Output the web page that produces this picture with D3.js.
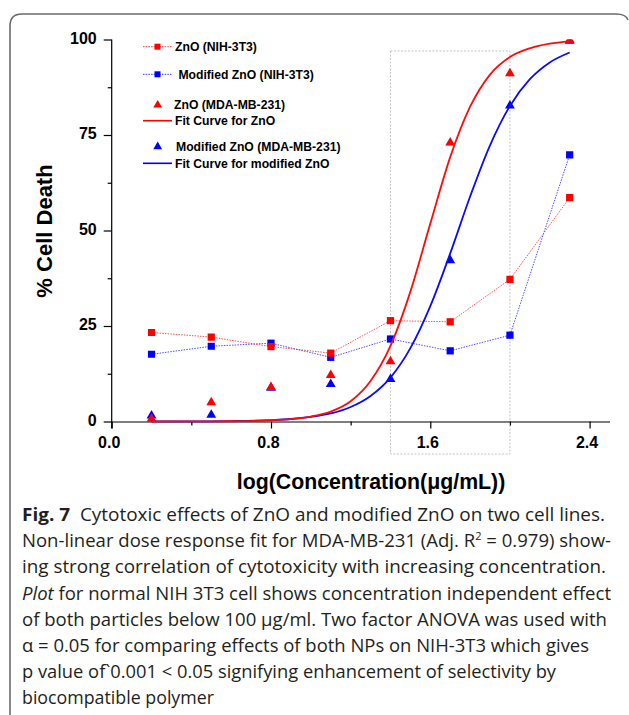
<!DOCTYPE html>
<html>
<head>
<meta charset="utf-8">
<script src="https://cdn.jsdelivr.net/npm/d3@7"></script>
<style>
  body { margin: 0; background: #fff; }
  svg { display: block; }
</style>
</head>
<body>
<div class="vis-chart"></div>
<script>
// data
const conc = [0.2, 0.5, 0.8, 1.1, 1.4, 1.7, 2.0, 2.3];
const znoNih = [23.3, 22.1, 19.6, 17.9, 26.4, 26.1, 37.2, 58.6];
const modNih = [17.6, 19.7, 20.5, 16.8, 21.6, 18.5, 22.6, 69.8];
const znoMda = [0.7, 5.0, 9.0, 12.1, 15.7, 73.0, 91.1, 99.9];
const modMda = [1.5, 1.7, 8.8, 9.8, 11.1, 42.2, 82.7, 99.6];

// fit curves, read at these x positions
const fitX = [0.2, 0.4, 0.6, 0.8, 0.9, 1.0, 1.1, 1.2, 1.3, 1.4, 1.5, 1.6, 1.7, 1.8, 1.9, 2.0, 2.1, 2.2, 2.3];
const fitZno = [0.0, 0.02, 0.07, 0.3, 0.6, 1.3, 2.6, 5.3, 10.6, 19.8, 34.0, 51.8, 69.2, 82.4, 90.8, 95.4, 97.7, 98.9, 99.5];
const fitMod = [0.01, 0.03, 0.11, 0.36, 0.65, 1.2, 2.1, 3.8, 6.7, 11.5, 19.2, 30.2, 44.0, 58.9, 72.3, 82.6, 89.6, 94.0, 96.6];

const xMajor = [0, 0.8, 1.6, 2.4];
const xMinor = [0.4, 1.2, 2.0];
const yMajor = [0, 25, 50, 75, 100];
const yMinor = [12.5, 37.5, 62.5, 87.5];
const boxRange = [1.4, 2.0];

const legendItems = [
  {label: 'ZnO (NIH-3T3)', color: '#ff0000', kind: 'sq'},
  {label: ' Modified ZnO (NIH-3T3)', color: '#0000ff', kind: 'sq'},
  {label: 'ZnO (MDA-MB-231)', color: '#ff0000', kind: 'tri'},
  {label: 'Fit Curve for ZnO', color: '#ff0000', kind: 'line'},
  {label: 'Modified ZnO (MDA-MB-231)', color: '#0000ff', kind: 'tri'},
  {label: 'Fit Curve for modified ZnO', color: '#0000ff', kind: 'line'}
];

const captionLines = [
  [{t: 'Fig. 7', b: true}, {t: '  Cytotoxic effects of ZnO and modified ZnO on two cell lines.'}],
  [{t: 'Non-linear dose response fit for MDA-MB-231 (Adj. R'}, {t: '2', sup: true}, {t: ' = 0.979) show-', down: true}],
  [{t: 'ing strong correlation of cytotoxicity with increasing concentration.'}],
  [{t: 'Plot', i: true}, {t: ' for normal NIH 3T3 cell shows concentration independent effect'}],
  [{t: 'of both particles below 100 µg/ml. Two factor ANOVA was used with'}],
  [{t: 'α = 0.05 for comparing effects of both NPs on NIH-3T3 which gives'}],
  [{t: 'p value of`0.001 < 0.05 signifying enhancement of selectivity by'}],
  [{t: 'biocompatible polymer'}]
];
const captionEnds = [605, 611, 606, 611, 607, 589, 556, 214];

const width = 629;
const height = 715;
const font = '"Liberation Sans", Arial, sans-serif';

const svg = d3.select('.vis-chart').append('svg')
  .attr('width', width).attr('height', height);

// figure frame
svg.append('path')
  .attr('d', 'M10,' + height + ' L10,26 Q10,14 22,14 L616,14 Q626,14 628,20')
  .attr('fill', 'none').attr('stroke', '#6b6b6b').attr('stroke-width', 1.6);

const x = d3.scaleLinear().domain([0, 2.5]).range([111.7, 609.5]);
const y = d3.scaleLinear().domain([0, 100]).range([421.5, 39.5]);

svg.append('clipPath').attr('id', 'plotclip')
  .append('rect').attr('x', x(0)).attr('y', y(100))
  .attr('width', x(2.5) - x(0)).attr('height', 440 - y(100));

// dotted box
svg.append('rect')
  .attr('x', x(boxRange[0])).attr('y', 51)
  .attr('width', x(boxRange[1]) - x(boxRange[0])).attr('height', 454 - 51)
  .attr('fill', 'none').attr('stroke', '#c4c4c4').attr('stroke-width', 1)
  .attr('stroke-dasharray', '2,1.5');

// axes
const gx = svg.append('g').attr('transform', 'translate(0,' + y(0) + ')');
gx.call(d3.axisBottom(x).tickValues(xMajor).tickSize(7).tickSizeOuter(0)
  .tickFormat(d3.format('.1f')));
gx.append('g').call(d3.axisBottom(x).tickValues(xMinor).tickSize(4).tickSizeOuter(0).tickFormat(''))
  .select('.domain').remove();
gx.selectAll('text').attr('font-family', font).attr('font-weight', 'bold')
  .attr('font-size', 16).attr('fill', '#000').attr('dy', '1.05em').attr('dx', -3);

const gy = svg.append('g').attr('transform', 'translate(' + x(0) + ',0)');
gy.call(d3.axisLeft(y).tickValues(yMajor).tickSize(8).tickSizeOuter(0));
gy.append('g').call(d3.axisLeft(y).tickValues(yMinor).tickSize(4).tickSizeOuter(0).tickFormat(''))
  .select('.domain').remove();
gy.selectAll('text').attr('font-family', font).attr('font-weight', 'bold')
  .attr('font-size', 16).attr('fill', '#000').attr('x', -15).attr('dy', '0.22em');
gy.select('.domain').attr('d', 'M0,' + y(100) + 'V' + (y(0) + 7));
svg.selectAll('.domain, .tick line').attr('stroke', '#000').attr('stroke-width', 1.2);

// axis titles
svg.append('text')
  .attr('x', 371).attr('y', 489).attr('text-anchor', 'middle')
  .attr('font-family', font).attr('font-weight', 'bold').attr('font-size', 21.3)
  .text('log(Concentration(μg/mL))');
svg.append('text')
  .attr('transform', 'translate(52,231) rotate(-90)').attr('text-anchor', 'middle')
  .attr('font-family', font).attr('font-weight', 'bold').attr('font-size', 22)
  .text('% Cell Death');

const plot = svg.append('g').attr('clip-path', 'url(#plotclip)');

const pts = (vals) => vals.map((v, i) => [conc[i], v]);
const dotted = d3.line().x(d => x(d[0])).y(d => y(d[1]));

// NIH-3T3 series: dotted connecting lines and squares
[[modNih, '#3030ff'], [znoNih, '#ff3030']].forEach(([vals, c]) => {
  plot.append('path').attr('d', dotted(pts(vals)))
    .attr('fill', 'none').attr('stroke', c).attr('stroke-width', 1)
    .attr('stroke-dasharray', '1.5,1.2').attr('opacity', 0.85);
});
[[modNih, '#0000ff'], [znoNih, '#ff0000']].forEach(([vals, c]) => {
  plot.selectAll(null).data(pts(vals)).enter().append('path')
    .attr('d', d3.symbol(d3.symbolSquare, 52)())
    .attr('transform', d => 'translate(' + x(d[0]) + ',' + y(d[1]) + ')')
    .attr('fill', c);
});

// MDA-MB-231 triangles
[[modMda, '#0000ff'], [znoMda, '#ff0000']].forEach(([vals, c]) => {
  plot.selectAll(null).data(pts(vals)).enter().append('path')
    .attr('d', d3.symbol(d3.symbolTriangle, 42)())
    .attr('transform', d => 'translate(' + x(d[0]) + ',' + y(d[1]) + ')')
    .attr('fill', c);
});

// fit curves
const fitLine = d3.line().x(d => x(d[0])).y(d => y(d[1])).curve(d3.curveMonotoneX);
[[fitMod, '#0a0aff'], [fitZno, '#ff0a0a']].forEach(([vals, c]) => {
  plot.append('path').attr('d', fitLine(vals.map((v, i) => [fitX[i], v])))
    .attr('fill', 'none').attr('stroke', c).attr('stroke-width', 1.8);
});

// legend
const legendY = [46.7, 74.3, 105, 120.7, 146.7, 163.3];
const legendTextX = [175, 175, 174, 175, 176, 175];
const lg = svg.append('g');
legendItems.forEach((it, i) => {
  const g = lg.append('g').attr('transform', 'translate(0,' + legendY[i] + ')');
  if (it.kind === 'sq') {
    g.append('line').attr('x1', 143).attr('x2', 172).attr('stroke', it.color)
      .attr('stroke-width', 1).attr('stroke-dasharray', '1.5,1.2').attr('opacity', 0.8);
    g.append('rect').attr('x', 154.5).attr('y', -3).attr('width', 6).attr('height', 6).attr('fill', it.color);
  } else if (it.kind === 'tri') {
    g.append('path').attr('d', d3.symbol(d3.symbolTriangle, 34)())
      .attr('transform', 'translate(157.7,0)').attr('fill', it.color);
  } else {
    g.append('line').attr('x1', 143).attr('x2', 172).attr('stroke', it.color).attr('stroke-width', 1.6);
  }
  g.append('text').attr('x', legendTextX[i]).attr('dy', '0.36em')
    .attr('font-family', font).attr('font-weight', 'bold').attr('font-size', 12.2)
    .style('white-space', 'pre')
    .text(it.label);
});

// caption
const capFont = '"Open Sans", "Noto Sans", sans-serif';
captionLines.forEach((parts, i) => {
  const t = svg.append('text')
    .attr('x', 22).attr('y', 521 + i * 26.2)
    .attr('font-family', capFont).attr('font-size', 18.5).attr('fill', '#231f20')
    .attr('textLength', captionEnds[i] - 22).attr('lengthAdjust', 'spacingAndGlyphs')
    .style('white-space', 'pre');
  parts.forEach(p => {
    const s = t.append('tspan').text(p.t);
    if (p.b) s.attr('font-weight', 'bold');
    if (p.i) s.attr('font-style', 'italic');
    if (p.sup) s.attr('font-size', 11).attr('dy', -7);
    if (p.down) s.attr('dy', 7);
  });
});
</script>
</body>
</html>
